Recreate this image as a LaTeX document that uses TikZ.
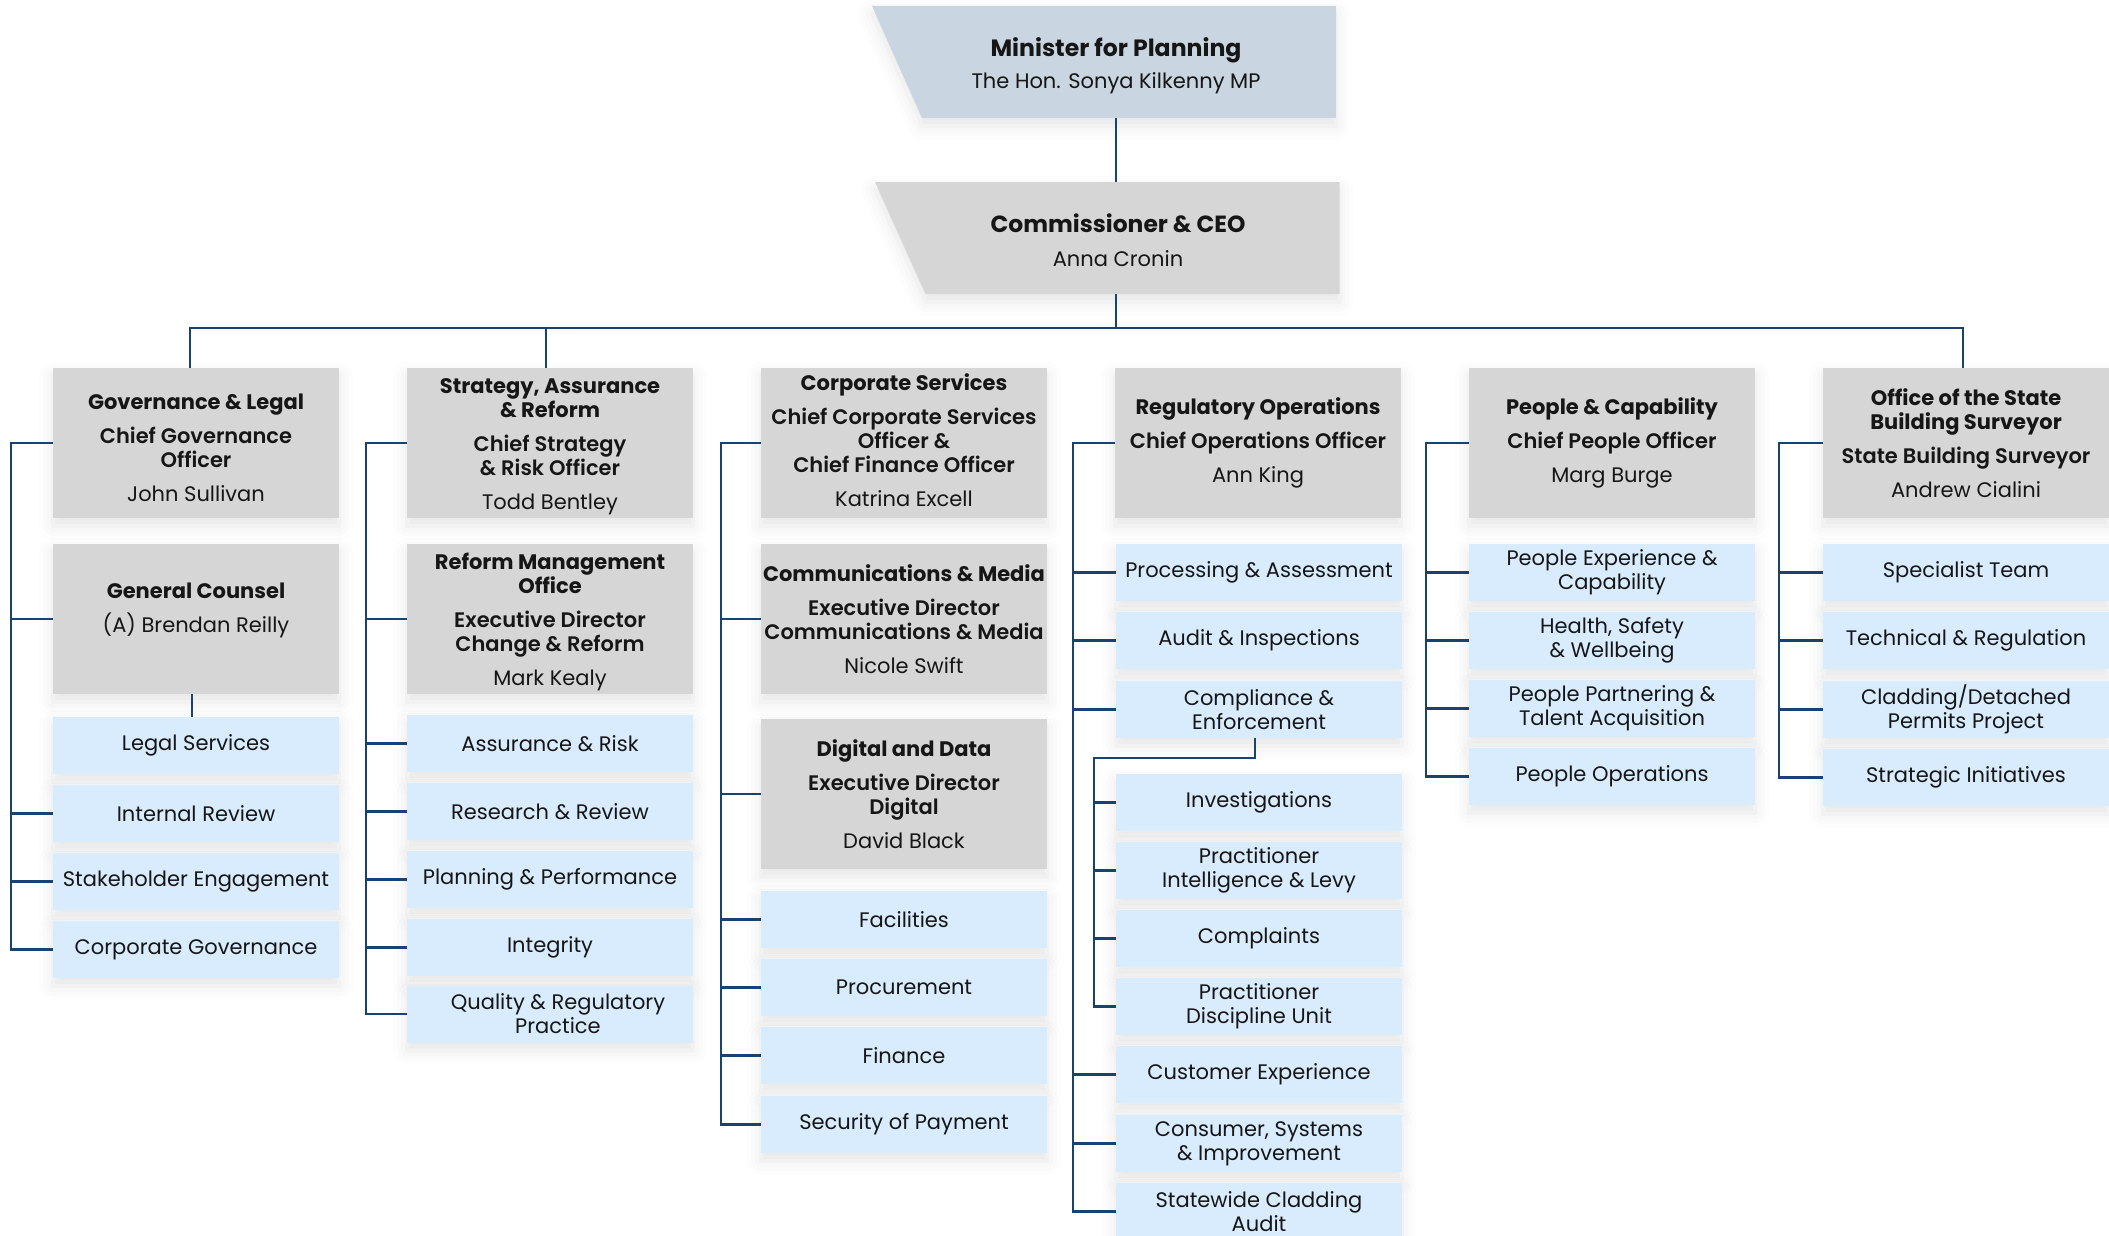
\documentclass[tikz,border=0pt]{standalone}
\usepackage{fontspec}
\setmainfont{Poppins}
\newfontface\rolefont{Poppins SemiBold}
\usetikzlibrary{shadows.blur}

\definecolor{linkblue}{RGB}{24,66,112}
\definecolor{headgray}{RGB}{214,214,214}
\definecolor{unitblue}{RGB}{217,236,253}
\definecolor{ministerfill}{RGB}{201,213,224}
\definecolor{inkblack}{RGB}{22,22,22}

\newcommand\ttl[1]{\textbf{#1}}
\newcommand\rol[1]{{\rolefont #1}}
% grey head box with its caption; #4 moves the caption down (in px)
\newcommand\headbox[5]{%
  \node[head] (#1) at (#2,#3) {};
  \node (#1-text) at (#2,{#3+#4}) {#5};}

\begin{document}
\begin{tikzpicture}[x=0.5pt,y=-0.5pt,
  every node/.style={font=\fontsize{10.5}{12}\selectfont, text=inkblack,
    inner sep=0pt, align=center},
  softshadow/.style={blur shadow={shadow xshift=0pt, shadow yshift=-4pt,
    shadow blur radius=7pt, shadow opacity=10}},
  boxbase/.style={minimum width=143pt, softshadow},
  head/.style={boxbase, fill=headgray, minimum height=75pt},
  unit/.style={boxbase, fill=unitblue, minimum height=28.5pt},
  topbox/.style={minimum width=220pt, minimum height=56pt},
  link/.style={draw=linkblue, line width=1.3pt},
]
\useasboundingbox (0,0) rectangle (2109,1236);
\clip (0,0) rectangle (2109,1236);

% ---- top of the chart: slanted-edge boxes ----
\fill[ministerfill, softshadow] (872,6) -- (1336,6) -- (1336,118) -- (922,118) -- cycle;
\fill[headgray, softshadow] (875,182) -- (1339.5,182) -- (1339.5,294) -- (925.5,294) -- cycle;
\node[topbox] (minister) at (1116,62) {};
\node (minister-text) at (1116,66)
  {{\fontsize{11.8}{13}\selectfont\ttl{Minister for Planning}}\\[4pt]The Hon. Sonya Kilkenny MP};
\node[topbox] (ceo) at (1119.5,238) {};
\node[font=\fontsize{11.7}{13}\selectfont] (ceo-text) at (1118,240)
  {\ttl{Commissioner \& CEO}\\[4pt]{\fontsize{10.5}{12}\selectfont Anna Cronin}};

% ---- division heads ----
\headbox{gov}{196}{443}{5}
  {\ttl{Governance \& Legal}\\[5pt]\rol{Chief Governance}\\\rol{Officer}\\[5pt]John Sullivan}
\headbox{strat}{550}{443}{4}
  {\ttl{Strategy, Assurance}\\\ttl{\& Reform}\\[5pt]\rol{Chief Strategy}\\\rol{\& Risk Officer}\\[5pt]Todd Bentley}
\headbox{corp}{904}{443}{-3}
  {\ttl{Corporate Services}\\[5pt]\rol{Chief Corporate Services}\\\rol{Officer \&}\\\rol{Chief Finance Officer}\\[5pt]Katrina Excell}
\headbox{reg}{1258}{443}{0}
  {\ttl{Regulatory Operations}\\[5pt]\rol{Chief Operations Officer}\\[5pt]Ann King}
\headbox{people}{1612}{443}{0}
  {\ttl{People \& Capability}\\[5pt]\rol{Chief People Officer}\\[5pt]Marg Burge}
\headbox{osbs}{1966}{443}{0}
  {\ttl{Office of the State}\\\ttl{Building Surveyor}\\[5pt]\rol{State Building Surveyor}\\[5pt]Andrew Cialini}

% ---- second level heads ----
\headbox{gc}{196}{619}{-9}
  {\ttl{General Counsel}\\[5pt](A) Brendan Reilly}
\headbox{reform}{550}{619}{3}
  {\ttl{Reform Management}\\\ttl{Office}\\[5pt]\rol{Executive Director}\\\rol{Change \& Reform}\\[5pt]Mark Kealy}
\headbox{comm}{904}{619}{0}
  {\ttl{Communications \& Media}\\[5pt]\rol{Executive Director}\\\rol{Communications \& Media}\\[5pt]Nicole Swift}
\headbox{digital}{904}{794}{0}
  {\ttl{Digital and Data}\\[5pt]\rol{Executive Director}\\\rol{Digital}\\[5pt]David Black}

% ---- Governance & Legal units ----
\node[unit] (legal)   at (196,745.5) {Legal Services};
\node[unit] (intrev)  at (196,813.5) {Internal Review};
\node[unit] (stake)   at (196,881.5) {Stakeholder Engagement};
\node[unit] (cgov)    at (196,949.5) {Corporate Governance};

% ---- Strategy, Assurance & Reform units ----
\node[unit] (assur)    at (550,743.5) {Assurance \& Risk};
\node[unit] (research) at (550,811.5) {Research \& Review};
\node[unit] (planperf) at (550,879.5) {Planning \& Performance};
\node[unit] (integ)    at (550,947.5) {Integrity};
\node[unit] (quality)  at (550,1014)  {\hspace*{8pt}Quality \& Regulatory\\\hspace*{8pt}Practice};

% ---- Corporate Services units ----
\node[unit] (facil)   at (904,919.5)  {Facilities};
\node[unit] (procure) at (904,987.5)  {Procurement};
\node[unit] (finance) at (904,1055.5) {Finance};
\node[unit] (secpay)  at (904,1124.5) {Security of Payment};

% ---- Regulatory Operations units ----
\node[unit] (procass)    at (1259,572.5)  {Processing \& Assessment};
\node[unit] (audit)      at (1259,640.5)  {Audit \& Inspections};
\node[unit] (compl)      at (1259,709.5)  {Compliance \&\\Enforcement};
\node[unit] (invest)     at (1259,802.5)  {Investigations};
\node[unit] (pil)        at (1259,870.5)  {Practitioner\\Intelligence \& Levy};
\node[unit] (complaints) at (1259,938.5)  {Complaints};
\node[unit] (pdu)        at (1259,1006.5) {Practitioner\\Discipline Unit};
\node[unit] (custexp)    at (1259,1074.5) {Customer Experience};
\node[unit] (consumer)   at (1259,1143.5) {Consumer, Systems\\\& Improvement};
\node[unit] (cladaudit)  at (1259,1211.5) {Statewide Cladding\\Audit};

% ---- People & Capability units ----
\node[unit] (pexp) at (1612,572.5) {People Experience \&\\Capability};
\node[unit] (hsw)  at (1612,640.5) {Health, Safety\\\& Wellbeing};
\node[unit] (ppta) at (1612,708.5) {People Partnering \&\\Talent Acquisition};
\node[unit] (pops) at (1612,776.5) {People Operations};

% ---- Office of the State Building Surveyor units ----
\node[unit] (spec)     at (1966,572.5) {Specialist Team};
\node[unit] (tech)     at (1966,640.5) {Technical \& Regulation};
\node[unit] (cladproj) at (1966,709.5) {Cladding/Detached\\Permits Project};
\node[unit] (stratini) at (1966,777.5) {Strategic Initiatives};

% ---- reporting lines ----
\coordinate (bus) at (1116,328);
\draw[link] (minister.south -| bus) -- (ceo.north -| bus);
\draw[link] (ceo.south -| bus) -- (bus);
\draw[link] ([xshift=-3pt]gov.north) |- (bus);
\draw[link] ([xshift=-1.5pt]osbs.north) |- (bus);
\draw[link] ([xshift=-2pt]strat.north) -- ([xshift=-2pt]strat.north |- bus);

% column spines
\coordinate (sp1) at (11,443);
\coordinate (sp2) at (366,443);
\coordinate (sp3) at (721,443);
\coordinate (sp4) at (1073,443);
\coordinate (sp5) at (1426,443);
\coordinate (sp6) at (1779,443);

\draw[link] (gov.west) -- (sp1) |- (cgov.west);
\foreach \n in {gc,intrev,stake} \draw[link] (\n.west -| sp1) -- (\n.west);
\draw[link] ([xshift=-2pt]gc.south) -- ([xshift=-2pt]legal.north);

\draw[link] (strat.west) -- (sp2) |- (quality.west);
\foreach \n in {reform,assur,research,planperf,integ} \draw[link] (\n.west -| sp2) -- (\n.west);

\draw[link] (corp.west) -- (sp3) |- (secpay.west);
\foreach \n in {comm,digital,facil,procure,finance} \draw[link] (\n.west -| sp3) -- (\n.west);

\draw[link] (reg.west) -- (sp4) |- (cladaudit.west);
\foreach \n in {procass,audit,compl,custexp,consumer} \draw[link] (\n.west -| sp4) -- (\n.west);
\coordinate (inner) at (1094,758);
\draw[link] ([xshift=-2pt]compl.south) |- (inner) |- (pdu.west);
\foreach \n in {invest,pil,complaints} \draw[link] (\n.west -| inner) -- (\n.west);

\draw[link] (people.west) -- (sp5) |- (pops.west);
\foreach \n in {pexp,hsw,ppta} \draw[link] (\n.west -| sp5) -- (\n.west);

\draw[link] (osbs.west) -- (sp6) |- (stratini.west);
\foreach \n in {spec,tech,cladproj} \draw[link] (\n.west -| sp6) -- (\n.west);
\end{tikzpicture}
\end{document}
